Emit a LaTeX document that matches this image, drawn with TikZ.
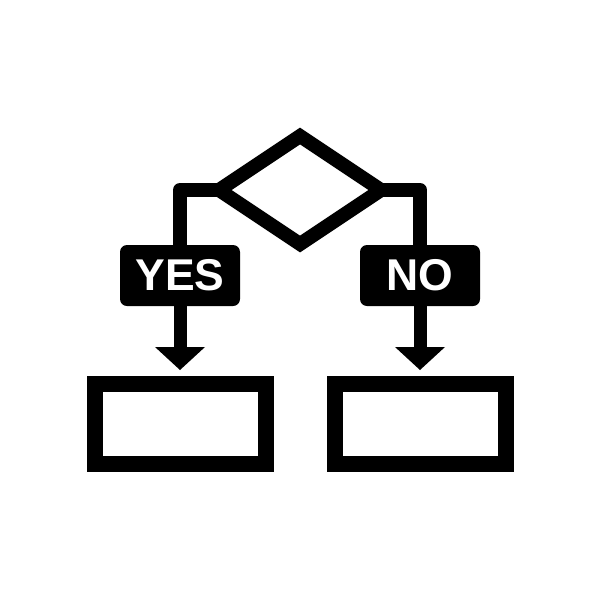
\documentclass[tikz,border=0pt]{standalone}
\usepackage{fontspec}
\setsansfont{Liberation Sans}
\usetikzlibrary{shapes.geometric, arrows.meta, positioning}
\tikzstyle{decision} = [diamond, draw=black, line width=14pt, minimum width=162pt, minimum height=108pt, inner sep=0pt, outer sep=0pt]
\tikzstyle{tag} = [rectangle, fill=black, rounded corners=7pt, minimum width=120pt, minimum height=61pt, inner sep=0pt, text=white, font=\sffamily\bfseries\fontsize{44.5}{44.5}\selectfont]
\tikzstyle{outbox} = [rectangle, draw=black, line width=16pt, minimum width=171pt, minimum height=80pt, inner sep=0pt]
\tikzstyle{link} = [line width=14pt, line join=round]
\tikzstyle{flow} = [line width=13pt, -{Triangle[width=50pt, length=23pt, line width=0pt]}, shorten >=6pt]

\begin{document}
\begin{tikzpicture}[x=1pt, y=-1pt]
  \useasboundingbox (0, 0) rectangle (600, 600);

  % Decision
  \node[decision] (dec) at (300, 190) {};

  % Branch labels
  \node[tag] (yes) at (180, 275.5) {YES};
  \node[tag] (no) at (420, 275.5) {NO};

  \draw[link] (dec.west) -| (yes.north);
  \draw[link] (dec.east) -| (no.north);

  % Results
  \node[outbox] (lbox) at (180, 424) {};
  \node[outbox] (rbox) at (420, 424) {};

  \draw[flow] (yes.south) -- (lbox.north);
  \draw[flow] (no.south) -- (rbox.north);

\end{tikzpicture}
\end{document}
